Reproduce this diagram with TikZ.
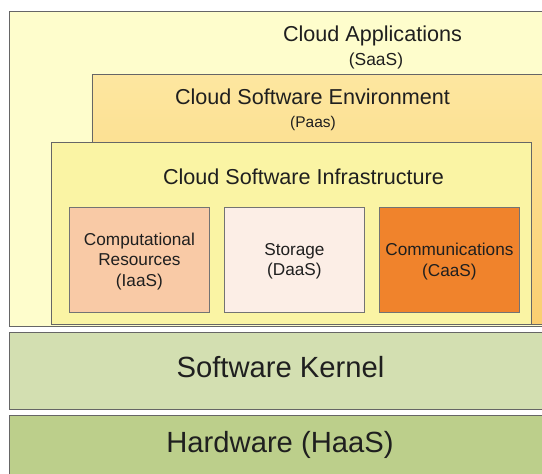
\documentclass[tikz,border=0pt]{standalone}
\usepackage{fontspec}
\setmainfont{Liberation Sans}
\begin{document}
\begin{tikzpicture}[x=1pt,y=-1pt,
  layer/.style={draw=black!60, line width=0.8pt, rectangle, anchor=north west, inner sep=0pt},
  sub/.style={draw=black!55, line width=0.8pt, rectangle, anchor=north west, inner sep=0pt, minimum width=140pt, minimum height=105pt},
  lbl/.style={inner sep=0pt, text=black!88, align=center},
  big/.style={lbl, anchor=base, font=\fontsize{21.6}{26}\selectfont},
  small/.style={lbl, font=\fontsize{17.2}{20.5}\selectfont},
  huge/.style={lbl, anchor=base, font=\fontsize{29.2}{34}\selectfont}
]
\useasboundingbox (0,0) rectangle (542,474);
\fill[white] (0,0) rectangle (542,474);
\clip (0,0) rectangle (542,474);

% SaaS
\node[layer, fill={rgb,255:red,254;green,253;blue,204}, minimum width=545pt, minimum height=315pt] (saas) at (9,10.5) {};
\node[big] (saast) at (372.5,41) {Cloud Applications};
\node[lbl, anchor=base, font=\fontsize{17.4}{20}\selectfont] (saass) at (376,65.5) {(SaaS)};

% PaaS
\node[layer, top color={rgb,255:red,253;green,231;blue,160}, bottom color={rgb,255:red,250;green,206;blue,112}, minimum width=470pt, minimum height=250pt] (paas) at (91.5,74) {};
\node[big] (paast) at (312.5,104) {Cloud Software Environment};
\node[lbl, anchor=base, font=\fontsize{15.5}{18}\selectfont] (paass) at (313,127) {(Paas)};

% Infrastructure
\node[layer, fill={rgb,255:red,250;green,244;blue,164}, minimum width=480pt, minimum height=182pt] (iaas) at (50.5,141.5) {};
\node[big] (iaast) at (303.5,184) {Cloud Software Infrastructure};

\node[sub, fill={rgb,255:red,249;green,202;blue,166}] (comp) at (69,207) {};
\node[small] at ([yshift=-1.5pt]comp.center) {Computational\\Resources\\(IaaS)};
\node[sub, fill={rgb,255:red,252;green,238;blue,230}] (stor) at (224,207) {};
\node[small] at ([yshift=-1.5pt]stor.center) {Storage\\(DaaS)};
\node[sub, fill={rgb,255:red,240;green,131;blue,44}] (comm) at (379,207) {};
\node[small] at ([yshift=-1.5pt]comm.center) {Communications\\(CaaS)};

% Kernel
\node[layer, fill={rgb,255:red,211;green,223;blue,177}, minimum width=545pt, minimum height=77pt] (kern) at (9,332) {};
\node[huge] (kernt) at (280.5,377) {Software Kernel};

% Hardware
\node[layer, fill={rgb,255:red,188;green,207;blue,139}, minimum width=545pt, minimum height=80pt] (hw) at (9,414.5) {};
\node[huge] (hwt) at (280,452) {Hardware (HaaS)};
\end{tikzpicture}
\end{document}
